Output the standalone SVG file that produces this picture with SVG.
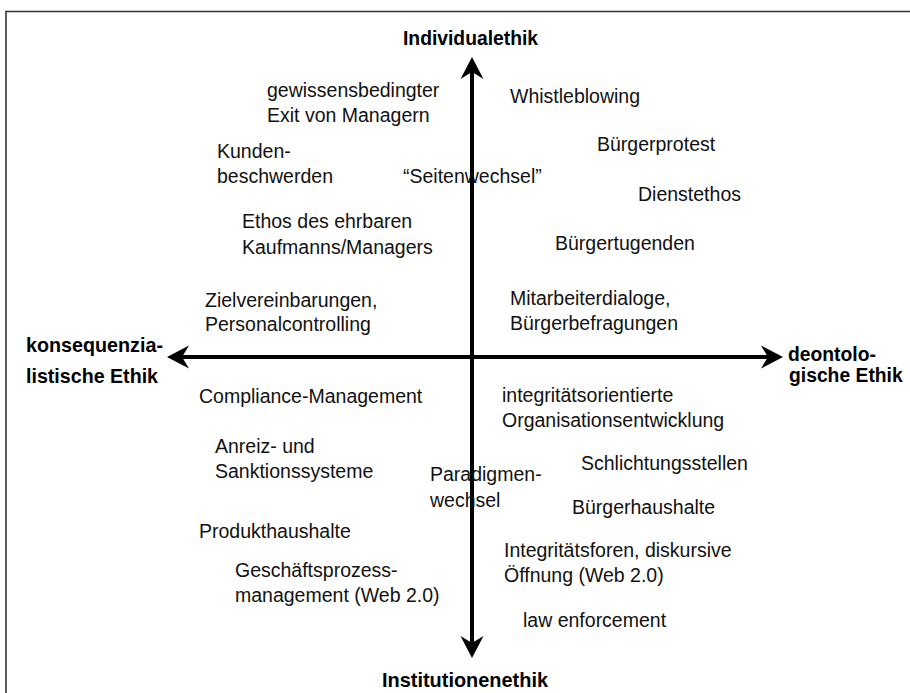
<svg xmlns="http://www.w3.org/2000/svg" width="910" height="693" viewBox="0 0 910 693">
<style>
.t{font-family:"Liberation Sans",Arial,sans-serif;font-size:19.5px;fill:#111}
.b{font-family:"Liberation Sans",Arial,sans-serif;font-size:21px;font-weight:bold;fill:#000}
.ax{stroke:#000;stroke-width:4;fill:none}
</style>
<defs>
<marker id="ah" markerUnits="userSpaceOnUse" viewBox="-23 -12 25 24" refX="-14" refY="0" markerWidth="25" markerHeight="24" orient="auto-start-reverse">
<path d="M0,0 L-22,-11.5 L-15,0 L-22,11.5 Z" fill="#000"/>
</marker>
</defs>
<rect width="910" height="693" fill="#fff"/>
<path d="M6,693 V11.5 H910" fill="none" stroke="#333" stroke-width="1.6"/>
<g id="connectors">
<line class="ax" x1="472" y1="644" x2="472" y2="71" marker-start="url(#ah)" marker-end="url(#ah)"/>
<line class="ax" x1="769" y1="357" x2="181" y2="357" marker-start="url(#ah)" marker-end="url(#ah)"/>
</g>
<g id="axis-top"><text class="b" x="403" y="45" textLength="135" lengthAdjust="spacingAndGlyphs">Individualethik</text></g>
<g id="axis-bottom"><text class="b" x="382" y="687" textLength="166" lengthAdjust="spacingAndGlyphs">Institutionenethik</text></g>
<g id="axis-left"><text class="b" x="26" y="352" textLength="137" lengthAdjust="spacingAndGlyphs">konsequenzia-</text><text class="b" x="26" y="383" textLength="132" lengthAdjust="spacingAndGlyphs">listische Ethik</text></g>
<g id="axis-right"><text class="b" transform="translate(788,361) scale(0.92,1)">deontolo-</text><text class="b" transform="translate(789,382) scale(0.92,1)">gische Ethik</text></g>
<g id="n-exit"><text class="t" x="267" y="97">gewissensbedingter</text><text class="t" x="267" y="122">Exit von Managern</text></g>
<g id="n-kunden"><text class="t" x="217" y="158">Kunden-</text><text class="t" x="217" y="183">beschwerden</text></g>
<g id="n-seitenwechsel"><text class="t" x="403" y="183">“Seitenwechsel”</text></g>
<g id="n-ethos"><text class="t" x="242" y="228">Ethos des ehrbaren</text><text class="t" x="242" y="254">Kaufmanns/Managers</text></g>
<g id="n-ziel"><text class="t" x="205" y="307">Zielvereinbarungen,</text><text class="t" x="205" y="331">Personalcontrolling</text></g>
<g id="n-compliance"><text class="t" x="199" y="403">Compliance-Management</text></g>
<g id="n-anreiz"><text class="t" x="215" y="453">Anreiz- und</text><text class="t" x="215" y="478">Sanktionssysteme</text></g>
<g id="n-paradigmen"><text class="t" x="430" y="481">Paradigmen-</text><text class="t" x="430" y="507">wechsel</text></g>
<g id="n-produkt"><text class="t" x="199" y="538">Produkthaushalte</text></g>
<g id="n-gpm"><text class="t" x="235" y="577">Geschäftsprozess-</text><text class="t" x="235" y="602">management (Web 2.0)</text></g>
<g id="n-whistle"><text class="t" x="510" y="103">Whistleblowing</text></g>
<g id="n-protest"><text class="t" x="597" y="151">Bürgerprotest</text></g>
<g id="n-dienst"><text class="t" x="638" y="201">Dienstethos</text></g>
<g id="n-tugend"><text class="t" x="555" y="250">Bürgertugenden</text></g>
<g id="n-mitarbeiter"><text class="t" x="510" y="305">Mitarbeiterdialoge,</text><text class="t" x="510" y="330">Bürgerbefragungen</text></g>
<g id="n-integritaet"><text class="t" x="502" y="402">integritätsorientierte</text><text class="t" x="502" y="427">Organisationsentwicklung</text></g>
<g id="n-schlichtung"><text class="t" x="581" y="470">Schlichtungsstellen</text></g>
<g id="n-buergerhaushalte"><text class="t" x="572" y="514">Bürgerhaushalte</text></g>
<g id="n-foren"><text class="t" x="504" y="557">Integritätsforen, diskursive</text><text class="t" x="504" y="582">Öffnung (Web 2.0)</text></g>
<g id="n-law"><text class="t" x="523" y="627">law enforcement</text></g>
</svg>
